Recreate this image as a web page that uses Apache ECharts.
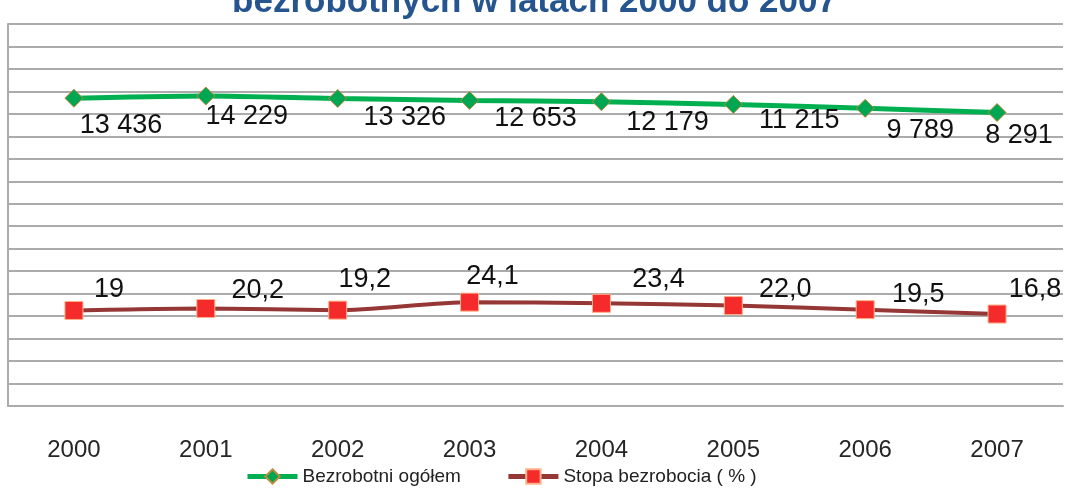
<!DOCTYPE html>
<html>
<head>
<meta charset="utf-8">
<script src="https://cdn.jsdelivr.net/npm/echarts@6/dist/echarts.min.js"></script>
<style>
  html, body { margin: 0; padding: 0; background: #fff; }
  #chart { width: 1069px; height: 491px; }
</style>
</head>
<body>
<div id="chart"></div>
<script>
// dane
var years = ["2000", "2001", "2002", "2003", "2004", "2005", "2006", "2007"];
var bezrobotni = [13436, 14229, 13326, 12653, 12179, 11215, 9789, 8291];
var stopa = [19, 20.2, 19.2, 24.1, 23.4, 22.0, 19.5, 16.8];
var stopaLabels = ["19", "20,2", "19,2", "24,1", "23,4", "22,0", "19,5", "16,8"];

// przesuniecia etykiet (jak w oryginale, recznie ustawione)
var greenOffsets = [[47, 27], [41, 21], [67, 19], [66, 18], [66, 21], [66, 16], [55, 22], [22, 23]];
var redOffsets = [[35, -21], [52, -18], [27, -31], [23, -26], [57, -24], [52, -16], [53, -15], [38, -24]];

function fmtSpace(v) {
  return String(v).replace(/\B(?=(\d{3})+(?!\d))/g, " ");
}

var myChart = echarts.init(document.getElementById("chart"));

var option = {
  backgroundColor: "#fff",
  animation: false,
  title: {
    text: "bezrobotnych w latach 2000 do 2007",
    left: "center",
    top: -15,
    padding: 0,
    textStyle: {
      fontFamily: "Liberation Sans",
      fontWeight: "bold",
      fontSize: 35,
      color: "#25548f"
    }
  },
  legend: {
    left: 245,
    top: 467,
    padding: 0,
    itemWidth: 50,
    itemHeight: 18,
    itemGap: 45,
    lineStyle: { width: 5 },
    textStyle: {
      fontFamily: "Liberation Sans",
      fontSize: 19,
      color: "#222"
    },
    data: ["Bezrobotni ogółem", "Stopa bezrobocia ( % )"]
  },
  grid: {
    left: 8,
    right: 6,
    top: 24,
    bottom: 85,
    containLabel: false,
    outerBoundsMode: "none"
  },
  xAxis: {
    type: "category",
    data: years,
    boundaryGap: true,
    axisLine: { show: true, lineStyle: { color: "#ababab", width: 2 } },
    axisTick: { show: false },
    axisLabel: {
      margin: 32,
      fontFamily: "Liberation Sans",
      fontSize: 24,
      color: "#262626"
    },
    splitLine: { show: false }
  },
  yAxis: [
    {
      type: "value",
      min: 0,
      max: 17,
      interval: 1,
      axisLine: { show: true, lineStyle: { color: "#ababab", width: 2 } },
      axisTick: { show: false },
      axisLabel: { show: false },
      splitLine: { show: true, lineStyle: { color: "#ababab", width: 2 } }
    },
    {
      type: "value",
      min: -97300,
      max: 40140,
      show: false,
      splitLine: { show: false }
    },
    {
      type: "value",
      min: -39.6,
      max: 194.7,
      show: false,
      splitLine: { show: false }
    }
  ],
  series: [
    {
      name: "Bezrobotni ogółem",
      type: "line",
      yAxisIndex: 1,
      smooth: 0.25,
      symbol: "diamond",
      symbolSize: 18,
      lineStyle: { color: "#00b050", width: 5 },
      itemStyle: { color: "#00a651", borderColor: "#c08a3e", borderWidth: 1 },
      label: {
        show: true,
        position: "inside",
        align: "center",
        verticalAlign: "middle",
        fontFamily: "Liberation Sans",
        fontSize: 27,
        color: "#111",
        formatter: function (p) { return fmtSpace(p.value); }
      },
      data: bezrobotni.map(function (v, i) {
        return { value: v, label: { offset: greenOffsets[i] } };
      })
    },
    {
      name: "Stopa bezrobocia ( % )",
      type: "line",
      yAxisIndex: 2,
      smooth: 0.25,
      symbol: "rect",
      symbolSize: 18,
      lineStyle: { color: "#953735", width: 4 },
      itemStyle: { color: "#f52a2a", borderColor: "#ffb08a", borderWidth: 1 },
      label: {
        show: true,
        position: "inside",
        align: "center",
        verticalAlign: "middle",
        fontFamily: "Liberation Sans",
        fontSize: 27,
        color: "#111",
        formatter: function (p) { return stopaLabels[p.dataIndex]; }
      },
      data: stopa.map(function (v, i) {
        return { value: v, label: { offset: redOffsets[i] } };
      })
    }
  ]
};

myChart.setOption(option, true);
</script>
</body>
</html>
